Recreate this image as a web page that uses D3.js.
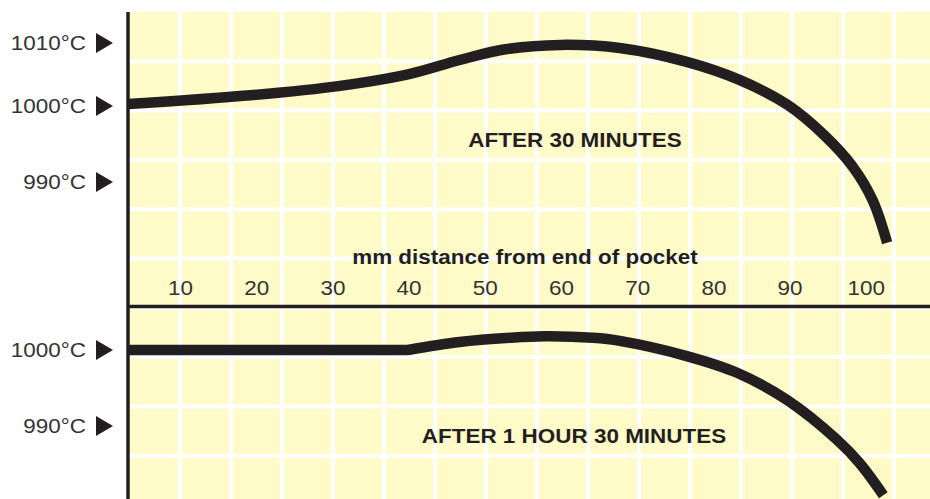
<!DOCTYPE html>
<html>
<head>
<meta charset="utf-8">
<script src="https://cdn.jsdelivr.net/npm/d3@7"></script>
<style>
  html, body { margin: 0; padding: 0; background: #ffffff; }
  svg { display: block; }
</style>
</head>
<body>
<svg id="chart" width="930" height="499"></svg>
<script>
// ---------------- data ----------------
const xTicks = [10, 20, 30, 40, 50, 60, 70, 80, 90, 100];
const xAxisTitle = "mm distance from end of pocket";

const topTicks = [1010, 1000, 990];
const bottomTicks = [1000, 990];
const tickSuffix = "°C";

const topLabel = "AFTER 30 MINUTES";
const bottomLabel = "AFTER 1 HOUR 30 MINUTES";

// after 30 minutes: distance (mm) and temperature (°C)
const after30mm = [3.2, 19.2, 31.0, 40.2, 46.7, 52.7, 59.9, 67.7, 76.5, 83.5, 89.7, 94.6, 98.3, 100.9, 102.8];
const after30C  = [1000.3, 1001.7, 1003.2, 1005.1, 1007.3, 1009.0, 1009.7, 1009.2, 1007.0, 1004.1, 1000.2, 996.1, 992.0, 987.6, 982.0];

// after 1 hour 30 minutes: flat part then curved part
const after90mm = [3.2, 20, 39.9, 46.7, 53.3, 57.9, 64.2, 67.7, 76.5, 83.1, 89.7, 96.2, 99.2, 102.3];
const after90C  = [1000, 1000, 1000, 1001.05, 1001.6, 1001.8, 1001.6, 1001.2, 999.2, 997.0, 993.4, 988.2, 985.1, 980.9];
const after90FlatEnd = 2; // index where the flat segment ends and the curve begins

// ---------------- layout ----------------
const W = 930, H = 499;
const plotLeft = 128, plotTop = 12;
const dividerY = 306.5;
const ink = "#231f20";
const textInk = "#333333";
const paper = "#fffbc8";
const font = "'Liberation Sans', Arial, Helvetica, sans-serif";
const stretch = 1.07;

const svg = d3.select("#chart");

// scales
const x = d3.scaleLinear().domain([0, 100]).range([103.8, 865.8]);
const yTop = d3.scaleLinear().domain([990, 1000, 1010]).range([182, 106, 43]);
const yBot = d3.scaleLinear().domain([990, 1000]).range([426, 350]);

// background
svg.append("rect")
  .attr("x", plotLeft).attr("y", plotTop)
  .attr("width", W - plotLeft).attr("height", H - plotTop)
  .attr("fill", paper);

// grid (decorative graph paper)
const cellW = 51, cellH = 49.3;
const grid = svg.append("g").attr("stroke", "#ffffff").attr("stroke-width", 4);
grid.selectAll("line.v")
  .data(d3.range(plotLeft + 1 + cellW, W, cellW))
  .join("line").attr("class", "v")
  .attr("x1", d => d).attr("x2", d => d)
  .attr("y1", plotTop).attr("y2", H);
grid.selectAll("line.h")
  .data(d3.range(plotTop + cellH, H, cellH))
  .join("line").attr("class", "h")
  .attr("x1", plotLeft).attr("x2", W)
  .attr("y1", d => d).attr("y2", d => d);

// curves
const smooth = d3.curveCatmullRom.alpha(0.5);
const lineTop = d3.line()
  .x(i => x(after30mm[i])).y(i => yTop(after30C[i]))
  .curve(smooth);
const lineBotFlat = d3.line()
  .x(i => x(after90mm[i])).y(i => yBot(after90C[i]))
  .curve(d3.curveLinear);
const lineBotCurve = d3.line()
  .x(i => x(after90mm[i])).y(i => yBot(after90C[i]))
  .curve(smooth);

const strokeW = 10.5;
svg.append("path")
  .attr("d", lineTop(d3.range(after30mm.length)))
  .attr("fill", "none").attr("stroke", ink)
  .attr("stroke-width", strokeW).attr("stroke-linecap", "butt");
const botIdx = d3.range(after90mm.length);
svg.append("path")
  .attr("d", lineBotFlat(botIdx.slice(0, after90FlatEnd + 1)) +
             lineBotCurve(botIdx.slice(after90FlatEnd)).replace(/^M/, "L"))
  .attr("fill", "none").attr("stroke", ink)
  .attr("stroke-width", strokeW).attr("stroke-linecap", "butt")
  .attr("stroke-linejoin", "miter");

// helper for slightly wide text
function addText(tx, ty, str, opts) {
  return svg.append("text")
    .attr("transform", `translate(${tx},${ty}) scale(${stretch},1)`)
    .attr("text-anchor", opts.anchor || "middle")
    .attr("dy", "0.35em")
    .attr("font-family", font)
    .attr("font-size", opts.size || 21)
    .attr("font-weight", opts.weight || "normal")
    .attr("fill", opts.fill || textInk)
    .text(str);
}

// panel labels
addText(575, 140, topLabel, { weight: "bold", fill: ink });
addText(574, 436, bottomLabel, { weight: "bold", fill: ink });

// x axis title
addText(525, 257, xAxisTitle, { weight: "bold", fill: ink });

// x axis ticks (between the panels)
const xAxis = d3.axisBottom(x).tickValues(xTicks).tickSize(0).tickPadding(0);
const gx = svg.append("g").attr("transform", "translate(0,288)").call(xAxis);
gx.select(".domain").remove();
gx.selectAll("text")
  .attr("y", 0).attr("dy", "0.35em")
  .attr("transform", `scale(${stretch},1)`)
  .attr("font-family", font).attr("font-size", 21)
  .attr("fill", textInk);

// y labels with arrow markers
function yLabels(ticks, scale) {
  const g = svg.append("g");
  const t = g.selectAll("g").data(ticks).join("g")
    .attr("transform", d => `translate(0,${scale(d)})`);
  t.append("text")
    .attr("transform", `translate(86,0) scale(${stretch},1)`)
    .attr("text-anchor", "end").attr("dy", "0.35em")
    .attr("font-family", font).attr("font-size", 21)
    .attr("fill", textInk)
    .text(d => d + tickSuffix);
  t.append("path")
    .attr("d", "M96,-10 L113,0 L96,10 Z")
    .attr("fill", ink);
}
yLabels(topTicks, yTop);
yLabels(bottomTicks, yBot);

// divider and vertical axis
svg.append("line")
  .attr("x1", plotLeft).attr("x2", W)
  .attr("y1", dividerY).attr("y2", dividerY)
  .attr("stroke", ink).attr("stroke-width", 3.5);
svg.append("line")
  .attr("x1", plotLeft).attr("x2", plotLeft)
  .attr("y1", plotTop).attr("y2", H)
  .attr("stroke", ink).attr("stroke-width", 3.5);
</script>
</body>
</html>
